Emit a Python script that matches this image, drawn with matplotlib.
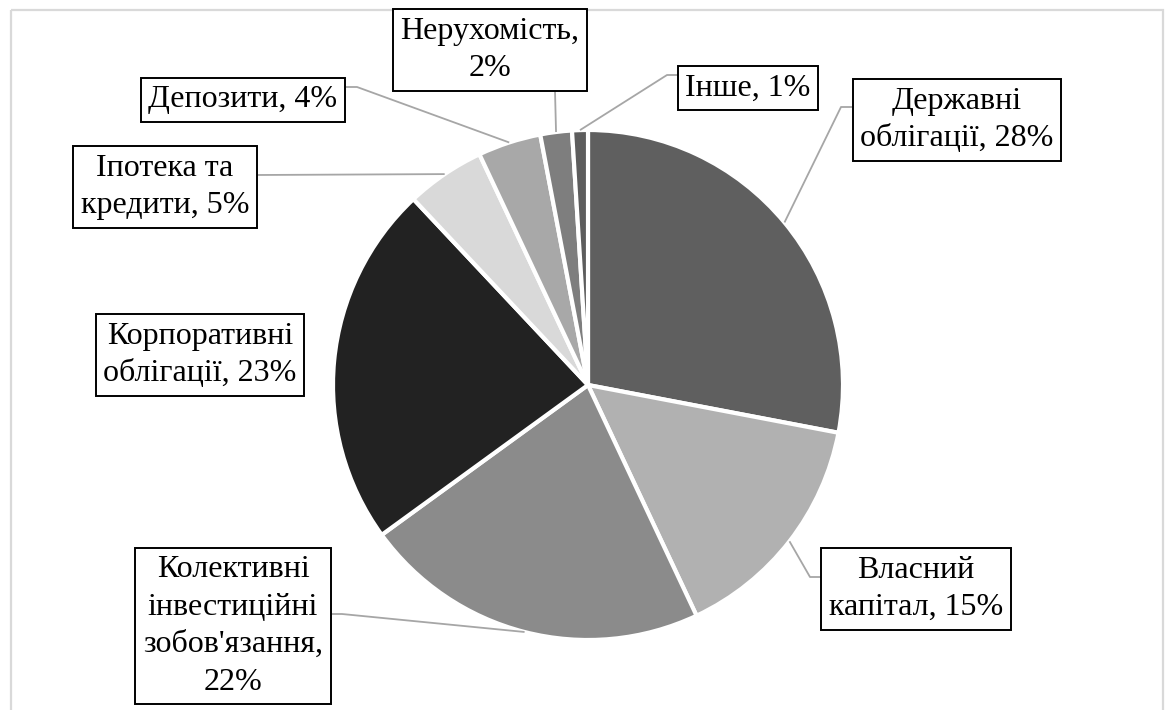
import numpy as np
import matplotlib
matplotlib.use("Agg")
import matplotlib.pyplot as plt
from matplotlib.patches import Rectangle

plt.rcParams['font.family'] = ['Liberation Serif', 'DejaVu Serif']

# Structure of the investment portfolio, %
categories = [
    "Державні\nоблігації",
    "Власний\nкапітал",
    "Колективні\nінвестиційні\nзобов'язання",
    "Корпоративні\nоблігації",
    "Іпотека та\nкредити",
    "Депозити",
    "Нерухомість",
    "Інше",
]
shares = [28, 15, 22, 23, 5, 4, 2, 1]
colors = ["#5f5f5f", "#b1b1b1", "#8b8b8b", "#222222",
          "#d9d9d9", "#a8a8a8", "#7e7e7e", "#5d5d5d"]

# label text, box-centre position and the point where the leader meets the box
# (pixel layout, y measured from the top)
label_sep = [", ", ", ", ",\n", ", ", ", ", ", ", ",\n", ", "]
label_pos = [(957, 120), (916, 589), (233, 626), (200, 355),
             (165, 187), (243, 100), (490, 50), (748, 88)]
leader_anchor = [(852, 107), (821, 577), (331, 614), None,
                 (257, 175), (346, 87), (555, 91), (678, 75)]
leader_kind = ["elbow", "elbow", "elbow", None, "straight", "elbow", "straight", "elbow"]

W, H = 1168, 710
fig = plt.figure(figsize=(W / 100, H / 100), dpi=100)
ax = fig.add_axes([0, 0, 1, 1])

center = (588, 385)
radius = 255

wedges, _ = ax.pie(
    shares, colors=colors, center=center, radius=radius,
    startangle=-90, counterclock=True, frame=True,
    wedgeprops=dict(edgecolor="white", linewidth=3.0),
)

ax.set_xlim(0, W)
ax.set_ylim(H, 0)
ax.set_aspect("equal", adjustable="box")
ax.axis("off")

# outer chart border
ax.add_patch(Rectangle((11, 10), 1152, 720, fill=False,
                       edgecolor="#d9d9d9", linewidth=1.6, zorder=0,
                       clip_on=False))

for wedge, cat, sep, val, pos, anchor, kind in zip(
        wedges, categories, label_sep, shares, label_pos, leader_anchor, leader_kind):
    text = f"{cat}{sep}{val}%"
    ax.text(pos[0], pos[1], text, ha="center", va="center",
            fontsize=23, color="black", linespacing=1.38, zorder=5,
            bbox=dict(boxstyle="square,pad=0.24", facecolor="white",
                      edgecolor="black", linewidth=1.4))
    if anchor is None:
        continue
    mid = np.deg2rad((wedge.theta1 + wedge.theta2) / 2)
    ex = center[0] + radius * np.cos(mid)
    ey = center[1] + radius * np.sin(mid)
    ax_, ay_ = anchor
    if kind == "elbow":
        step = 11 if ex > ax_ else -11
        xs = [ex, ax_ + step, ax_]
        ys = [ey, ay_, ay_]
    else:
        xs = [ex, ax_]
        ys = [ey, ay_]
    ax.plot(xs, ys, color="#a6a6a6", linewidth=1.3, zorder=4,
            solid_capstyle="butt")

fig.savefig("out.png", dpi=100)
